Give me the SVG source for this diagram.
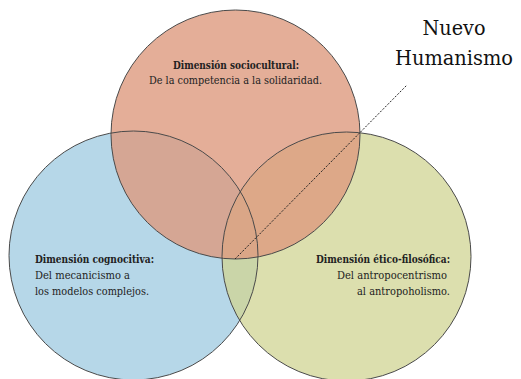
<svg xmlns="http://www.w3.org/2000/svg" width="521" height="379" viewBox="0 0 521 379">
<style>
text{font-family:"DejaVu Serif","Liberation Serif",serif}
.t{font-size:11.5px;fill:#222}
.b{font-weight:bold}
.ring{fill:none;stroke:#4a4a4a;stroke-width:1}
.big{font-size:20px;fill:#111;text-anchor:middle}
</style>
<rect width="521" height="379" fill="#fff"/>
<g id="cognocitiva">
<circle cx="133.5" cy="255.5" r="124.5" fill="#b6d7e8"/>
</g>
<g id="etico">
<circle cx="346.5" cy="256.5" r="124.5" fill="#d0d493" fill-opacity="0.75"/>
</g>
<g id="sociocultural">
<circle cx="235.5" cy="134.5" r="124.5" fill="#dd9a7e" fill-opacity="0.8"/>
</g>
<g id="outlines">
<circle class="ring" cx="133.5" cy="255.5" r="124.5"/>
<circle class="ring" cx="346.5" cy="256.5" r="124.5"/>
<circle class="ring" cx="235.5" cy="134.5" r="124.5"/>
</g>
<g id="connectors">
<line x1="235" y1="259" x2="407" y2="85" stroke="#222" stroke-width="1" stroke-dasharray="2,1.5"/>
</g>
<g id="sociocultural-text">
<text class="t b" x="236" y="69" text-anchor="middle" textLength="126" lengthAdjust="spacingAndGlyphs">Dimensión sociocultural:</text>
<text class="t" x="235.5" y="84" text-anchor="middle" textLength="173" lengthAdjust="spacingAndGlyphs">De la competencia a la solidaridad.</text>
</g>
<g id="cognocitiva-text">
<text class="t b" x="35" y="263" textLength="119" lengthAdjust="spacingAndGlyphs">Dimensión cognocitiva:</text>
<text class="t" x="35" y="279" textLength="95" lengthAdjust="spacingAndGlyphs">Del mecanicismo a</text>
<text class="t" x="35" y="295" textLength="114" lengthAdjust="spacingAndGlyphs">los modelos complejos.</text>
</g>
<g id="etico-text">
<text class="t b" x="316" y="263" textLength="134" lengthAdjust="spacingAndGlyphs">Dimensión ético-filosófica:</text>
<text class="t" x="337" y="279" textLength="110" lengthAdjust="spacingAndGlyphs">Del antropocentrismo</text>
<text class="t" x="357" y="295" textLength="93" lengthAdjust="spacingAndGlyphs">al antropoholismo.</text>
</g>
<g id="nuevo-humanismo">
<text class="big" x="454" y="35" textLength="63" lengthAdjust="spacingAndGlyphs">Nuevo</text>
<text class="big" x="454" y="65" textLength="118" lengthAdjust="spacingAndGlyphs">Humanismo</text>
</g>
</svg>
